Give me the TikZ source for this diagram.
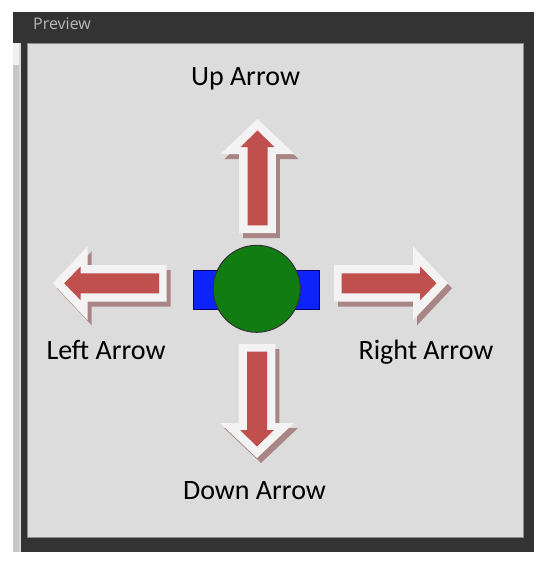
\documentclass[tikz,border=0pt]{standalone}
\usepackage{fontspec}
\setmainfont{Carlito}
\newfontfamily\uifont{Open Sans}
\usetikzlibrary{positioning}

\definecolor{panelgray}{HTML}{333333}
\definecolor{previewgray}{HTML}{DCDCDC}
\definecolor{arrowred}{HTML}{C0504D}
\definecolor{arrowwhite}{HTML}{F3F3F3}
\definecolor{arrowshadow}{HTML}{A98585}
\definecolor{bodygreen}{RGB}{17,124,17}
\definecolor{bodyblue}{RGB}{12,36,250}

\begin{document}
\begin{tikzpicture}[
    x=1pt, y=-1pt,
    label/.style={anchor=base, font=\fontsize{28}{30}\selectfont},
    outerarrow/.style={fill=arrowwhite},
    innerarrow/.style={fill=arrowred},
    shadowarrow/.style={fill=arrowshadow}
]
\useasboundingbox (0,0) rectangle (546,562);
% Window frame
\fill[panelgray] (13,12) rectangle (534,552);
\fill[black!22] (13,43) rectangle (19,552);
\fill[black!6] (13,43) rectangle (19,65);
\fill[black!15] (19,43) rectangle (21,552);
\node[anchor=base west, font=\uifont\fontsize{16}{18}\selectfont, text=black!28, inner sep=0pt] (title) at (33,29) {Preview};
\filldraw[fill=previewgray, draw=black!45, line width=1] (27,43) rectangle (523,537);
% Arrows: tail x, tail y, angle
\foreach \ax/\ay/\ang [count=\i] in {257.5/233/90, 334/283.3/0, 257/344/-90, 166.7/283.3/180}{
  \begin{scope}[shift={(\ax,\ay)}]
    \fill[shadowarrow, shift={(4,5)}, rotate=\ang] (0,-18.3) -- (79,-18.3) -- (79,-37) -- (114,0) -- (79,37) -- (79,18.3) -- (0,18.3) -- cycle;
    \fill[outerarrow, rotate=\ang] (0,-18.3) -- (79,-18.3) -- (79,-37) -- (114,0) -- (79,37) -- (79,18.3) -- (0,18.3) -- cycle;
    \fill[innerarrow, rotate=\ang] (7.7,-10) -- (86,-10) -- (86,-17) -- (102.5,0) -- (86,17) -- (86,10) -- (7.7,10) -- cycle;
  \end{scope}
}
% Body
\node[draw=black!60!blue, fill=bodyblue, line width=1, minimum width=126, minimum height=38.6, inner sep=0pt] (bar) at (256.3,290) {};
\node[circle, draw=black!80, fill=bodygreen, line width=1, minimum size=87, inner sep=0pt] (body) at (256.7,288.8) {};
% Labels
\node[label] (up) at (245.5,85.5) {Up Arrow};
\node[label] (left) at (106,359) {Left Arrow};
\node[label] (right) at (426,359) {Right Arrow};
\node[label] (down) at (254.5,499) {Down Arrow};
\end{tikzpicture}
\end{document}
